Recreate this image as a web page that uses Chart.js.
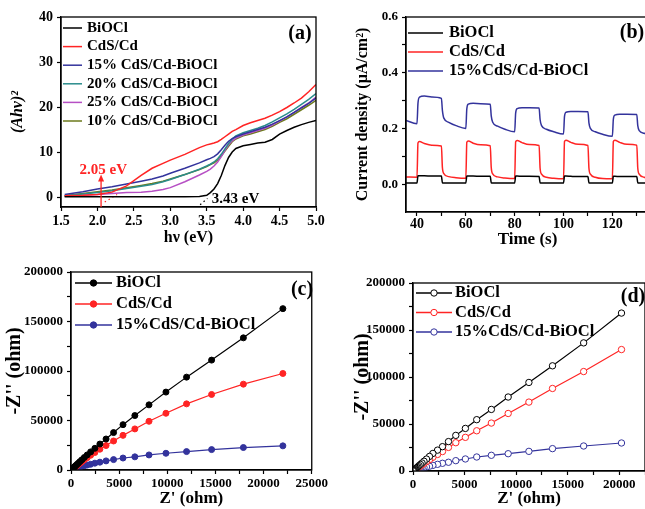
<!DOCTYPE html>
<html>
<head>
<meta charset="utf-8">
<script src="https://cdn.jsdelivr.net/npm/chart.js@4"></script>
<style>
html, body { margin: 0; padding: 0; background: #fff; overflow: hidden; width: 645px; height: 509px; }
canvas { position: absolute; }
</style>
</head>
<body>
<canvas id="ca" width="330" height="250" style="left:0;top:0"></canvas>
<canvas id="cb" width="320" height="250" style="left:330px;top:0"></canvas>
<canvas id="cc" width="330" height="259" style="left:0;top:250px"></canvas>
<canvas id="cd" width="320" height="259" style="left:330px;top:250px"></canvas>
<script>
//(a) TAUC PLOT DATA--------------------------------------------------
const energy = [1.55, 1.8, 2.0, 2.2, 2.4, 2.6, 2.75, 2.9, 3.0, 3.2, 3.4, 3.5, 3.55, 3.6, 3.65, 3.7, 3.75, 3.8, 3.85, 3.9, 4.0, 4.1, 4.2, 4.3, 4.4, 4.5, 4.6, 4.7, 4.8, 4.9, 5.0];
const taucBiOCl = [0.1, 0.1, 0.1, 0.1, 0.1, 0.1, 0.1, 0.1, 0.1, 0.1, 0.15, 0.4, 1.0, 1.8, 3.0, 4.8, 7.0, 8.8, 10.0, 10.8, 11.4, 11.7, 12.0, 12.2, 12.8, 14.0, 14.8, 15.5, 16.1, 16.6, 17.0];
const taucCdS = [0.3, 0.4, 0.6, 1.1, 2.5, 4.8, 6.4, 7.5, 8.2, 9.5, 11.0, 11.6, 11.8, 12.0, 12.3, 12.8, 13.4, 14.0, 14.6, 15.0, 15.9, 16.5, 17.0, 17.5, 18.2, 19.0, 19.9, 20.9, 22.0, 23.4, 25.0];
const tauc15 = [0.6, 1.2, 1.8, 2.3, 2.9, 3.5, 4.0, 4.7, 5.3, 6.4, 7.6, 8.3, 8.6, 9.0, 9.6, 10.5, 11.5, 12.4, 13.0, 13.4, 14.0, 14.5, 15.0, 15.5, 16.2, 17.0, 17.8, 18.8, 19.8, 20.8, 22.0];
const tauc20 = [0.3, 0.7, 1.0, 1.4, 1.9, 2.4, 2.8, 3.4, 3.9, 5.0, 6.2, 6.9, 7.3, 7.8, 8.5, 9.5, 10.7, 11.9, 12.9, 13.6, 14.3, 14.8, 15.3, 15.9, 16.7, 17.6, 18.5, 19.5, 20.6, 21.7, 23.0];
const tauc25 = [0.2, 0.4, 0.6, 0.8, 1.0, 1.1, 1.3, 1.7, 2.1, 3.4, 4.9, 5.7, 6.2, 6.9, 7.8, 9.0, 10.4, 11.6, 12.5, 13.1, 13.8, 14.3, 14.8, 15.3, 16.0, 16.9, 17.8, 18.8, 19.9, 20.9, 22.2];
const tauc10 = [0.3, 0.8, 1.2, 1.6, 2.1, 2.6, 3.0, 3.5, 4.0, 5.0, 6.1, 6.8, 7.2, 7.6, 8.2, 9.1, 10.2, 11.3, 12.3, 12.9, 13.6, 14.0, 14.5, 15.0, 15.7, 16.6, 17.4, 18.4, 19.4, 20.4, 21.5];
const tangentRedX = [2.1, 2.27];
const tangentRedY = [-1.1, 0.6];
const tangentBlackX = [3.41, 3.51];
const tangentBlackY = [-1.7, -0.3];
const gapRed = 2.05;
const gapBlack = 3.43;
const aTicksX = [1.5, 2.0, 2.5, 3.0, 3.5, 4.0, 4.5, 5.0];
const aLabelsX = ['1.5', '2.0', '2.5', '3.0', '3.5', '4.0', '4.5', '5.0'];
const aTicksY = [0, 10, 20, 30, 40];
const aLabelsY = ['0', '10', '20', '30', '40'];

//(b) PHOTOCURRENT DATA-----------------------------------------------
const timeS = [35.5, 40, 40.4, 41, 43, 46, 50, 50.4, 51, 53, 56,
  60, 60.4, 61, 63, 66, 70, 70.4, 71, 73, 76,
  80, 80.4, 81, 83, 86, 90, 90.4, 91, 93, 96,
  100, 100.4, 101, 103, 106, 110, 110.4, 111, 113, 116,
  120, 120.4, 121, 123, 126, 130, 130.4, 131, 133, 135];
const curBiOCl = [0.004, 0.004, 0.030, 0.030, 0.030, 0.029, 0.029, 0.005, 0.004, 0.004, 0.004,
  0.004, 0.029, 0.029, 0.029, 0.028, 0.028, 0.005, 0.004, 0.004, 0.004,
  0.004, 0.029, 0.029, 0.028, 0.028, 0.027, 0.005, 0.004, 0.004, 0.004,
  0.004, 0.029, 0.029, 0.028, 0.027, 0.027, 0.005, 0.004, 0.004, 0.004,
  0.004, 0.028, 0.028, 0.027, 0.027, 0.027, 0.005, 0.004, 0.004, 0.004];
const curCdS = [0.026, 0.025, 0.148, 0.153, 0.146, 0.140, 0.137, 0.060, 0.038, 0.027, 0.023,
  0.021, 0.150, 0.155, 0.147, 0.141, 0.138, 0.060, 0.037, 0.026, 0.022,
  0.020, 0.152, 0.157, 0.149, 0.142, 0.139, 0.058, 0.036, 0.025, 0.021,
  0.019, 0.153, 0.158, 0.150, 0.143, 0.139, 0.058, 0.036, 0.025, 0.020,
  0.019, 0.153, 0.158, 0.150, 0.143, 0.140, 0.058, 0.036, 0.025, 0.021];
const cur15 = [0.229, 0.217, 0.290, 0.312, 0.316, 0.313, 0.308, 0.265, 0.237, 0.222, 0.210,
  0.200, 0.270, 0.287, 0.290, 0.289, 0.287, 0.245, 0.222, 0.208, 0.197,
  0.188, 0.255, 0.271, 0.274, 0.274, 0.273, 0.232, 0.210, 0.197, 0.188,
  0.180, 0.243, 0.258, 0.261, 0.261, 0.260, 0.220, 0.200, 0.188, 0.179,
  0.172, 0.233, 0.248, 0.251, 0.251, 0.250, 0.210, 0.192, 0.183, 0.177];
const bTicksX = [40, 50, 60, 70, 80, 90, 100, 110, 120, 130];
const bLabelsX = ['40', '', '60', '', '80', '', '100', '', '120', ''];
const bTicksY = [0, 0.1, 0.2, 0.3, 0.4, 0.5, 0.6];
const bLabelsY = ['0.0', '', '0.2', '', '0.4', '', '0.6'];

//(c) NYQUIST (FILLED) DATA-------------------------------------------
const zReC = [22000, 17900, 14600, 12000, 9860, 8100, 6630, 5400, 4420, 3640, 3000, 2480, 2040, 1680, 1380, 1130, 930, 760, 620, 500, 400, 320, 250, 190, 140, 100, 60, 30, 10];
const zImC_BiOCl = [163000, 133500, 111000, 93800, 78700, 65800, 55000, 45800, 37800, 31300, 26200, 21900, 18300, 15200, 12600, 10300, 8500, 6900, 5600, 4500, 3600, 2900, 2200, 1700, 1200, 850, 500, 250, 80];
const zImC_CdS = [97500, 86700, 76300, 66800, 57300, 49200, 41500, 35000, 29300, 24700, 21000, 17700, 14900, 12400, 10300, 8400, 6900, 5600, 4500, 3600, 2900, 2300, 1800, 1400, 1000, 700, 430, 220, 70];
const zImC_15 = [24400, 22700, 20600, 18600, 16900, 15200, 13300, 12100, 10500, 9200, 7900, 6900, 5800, 5000, 4300, 3700, 3100, 2600, 2100, 1700, 1400, 1100, 850, 650, 480, 340, 200, 100, 30];
const cTicksX = [0, 2500, 5000, 7500, 10000, 12500, 15000, 17500, 20000, 22500, 25000];
const cLabelsX = ['0', '', '5000', '', '10000', '', '15000', '', '20000', '', '25000'];

//(d) NYQUIST (OPEN) DATA---------------------------------------------
const zReD = [20220, 16550, 13530, 11240, 9230, 7600, 6180, 5080, 4150, 3440, 2860, 2380, 1930, 1600, 1310, 1070, 880, 720, 590, 480, 390, 310, 250, 190, 140, 100, 60, 30, 10];
const zImD_BiOCl = [168000, 136300, 111900, 94200, 78700, 65500, 54600, 45300, 37900, 31300, 25900, 22200, 18700, 15500, 12700, 10400, 8500, 7000, 5700, 4600, 3700, 2900, 2300, 1700, 1300, 900, 550, 270, 90];
const zImD_CdS = [129200, 105800, 87800, 73300, 61200, 51000, 42800, 35800, 30100, 25100, 20700, 17600, 14600, 12000, 9900, 8100, 6600, 5400, 4400, 3600, 2900, 2300, 1800, 1400, 1000, 700, 420, 210, 70];
const zImD_15 = [29800, 26600, 23800, 20900, 18400, 16700, 14900, 12800, 11000, 9300, 8200, 7100, 6000, 5100, 4300, 3600, 3000, 2500, 2000, 1600, 1300, 1050, 800, 600, 450, 320, 200, 100, 30];
const dTicksX = [0, 2500, 5000, 7500, 10000, 12500, 15000, 17500, 20000, 22500];
const dLabelsX = ['0', '', '5000', '', '10000', '', '15000', '', '20000', ''];

//shared y ticks for (c) and (d)
const eisTicksY = [0, 25000, 50000, 75000, 100000, 125000, 150000, 175000, 200000];
const eisLabelsY = ['0', '', '50000', '', '100000', '', '150000', '', '200000'];
//-------------------------------------------------------------------

const FONT = "'Liberation Serif', 'Times New Roman', serif";
Chart.defaults.font.family = FONT;
Chart.defaults.font.weight = 'bold';
Chart.defaults.color = '#000';
Chart.defaults.animation = false;

const BLACK = '#000000', RED = '#ff2424', NAVY = '#33339c', TEAL = '#2a8c8c', PURPLE = '#b64fc4', OLIVE = '#6d7a1c';

function pts(xs, ys) {
  return xs.map(function (x, i) { return { x: x, y: ys[i] }; });
}

//frame around the plot area
const frame = {
  id: 'frame',
  afterDatasetsDraw(chart) {
    const a = chart.chartArea, ctx = chart.ctx;
    ctx.save();
    ctx.strokeStyle = '#000';
    ctx.lineWidth = 1.3;
    ctx.strokeRect(a.left, a.top, a.right - a.left, a.bottom - a.top);
    ctx.restore();
  }
};

//legend inside the plot + panel letter
const legendBox = {
  id: 'legendBox',
  afterDraw(chart, args, o) {
    const ctx = chart.ctx;
    ctx.save();
    ctx.font = 'bold ' + o.size + 'px ' + FONT;
    ctx.textBaseline = 'middle';
    ctx.textAlign = 'left';
    o.items.forEach(function (idx, k) {
      const ds = chart.data.datasets[idx];
      const y = o.y + k * o.dy;
      ctx.strokeStyle = ds.borderColor;
      ctx.lineWidth = 1.5;
      ctx.beginPath();
      ctx.moveTo(o.x, y);
      ctx.lineTo(o.x + o.len, y);
      ctx.stroke();
      if (o.marker) {
        ctx.beginPath();
        ctx.arc(o.x + o.len / 2, y, 3.2, 0, Math.PI * 2);
        ctx.fillStyle = o.marker === 'open' ? '#fff' : ds.borderColor;
        ctx.fill();
        ctx.lineWidth = 1;
        ctx.stroke();
      }
      ctx.fillStyle = '#000';
      ctx.fillText(ds.label, o.x + o.len + o.gap, y);
    });
    ctx.font = 'bold ' + o.tagSize + 'px ' + FONT;
    ctx.textAlign = 'center';
    ctx.fillText(o.tag, o.tagX, o.tagY);
    ctx.restore();
  }
};

//band gap arrow + labels (a)
const gapMarks = {
  id: 'gapMarks',
  afterDatasetsDraw(chart) {
    const ctx = chart.ctx, x = chart.scales.x, y = chart.scales.y;
    const ax = x.getPixelForValue(gapRed);
    const tip = y.getPixelForValue(5.0);
    ctx.save();
    ctx.strokeStyle = RED;
    ctx.fillStyle = RED;
    ctx.lineWidth = 1.3;
    ctx.beginPath();
    ctx.moveTo(ax, chart.chartArea.bottom);
    ctx.lineTo(ax, tip + 5);
    ctx.stroke();
    ctx.beginPath();
    ctx.moveTo(ax, tip);
    ctx.lineTo(ax - 3, tip + 7);
    ctx.lineTo(ax + 3, tip + 7);
    ctx.closePath();
    ctx.fill();
    ctx.font = 'bold 15px ' + FONT;
    ctx.textBaseline = 'middle';
    ctx.textAlign = 'center';
    ctx.fillText(gapRed.toFixed(2) + ' eV', x.getPixelForValue(2.08), y.getPixelForValue(6.0));
    ctx.fillStyle = '#000';
    ctx.textAlign = 'left';
    ctx.fillText(gapBlack.toFixed(2) + ' eV', x.getPixelForValue(3.57), y.getPixelForValue(-0.4));
    ctx.restore();
  }
};

function scale(o) {
  return {
    type: 'linear',
    min: o.min, max: o.max,
    afterBuildTicks: function (s) { s.ticks = o.ticks.map(function (v) { return { value: v }; }); },
    ticks: {
      autoSkip: false, maxRotation: 0, padding: o.pad,
      font: { size: o.fs },
      callback: function (v, i) { return o.labels[i]; }
    },
    grid: { drawOnChartArea: false, tickLength: 4, color: '#000', tickWidth: 1.2 },
    border: { color: '#000', width: 1.3 },
    title: { display: true, text: o.title, font: { size: o.tfs, style: o.italic ? 'italic' : 'normal' }, padding: o.tpad },
    afterFit: o.fit
  };
}

function baseOptions(pad, xs, ys, leg) {
  return {
    responsive: false,
    animation: false,
    layout: { padding: pad },
    plugins: { legend: { display: false }, tooltip: { enabled: false }, legendBox: leg },
    scales: { x: xs, y: ys }
  };
}

function lineSet(label, color, xs, ys, extra) {
  return Object.assign({
    label: label, data: pts(xs, ys), borderColor: color, backgroundColor: color,
    borderWidth: 1.5, pointRadius: 0, fill: false
  }, extra || {});
}

//CHART (a)-----------------------------------------------------------
new Chart(document.getElementById('ca'), {
  type: 'line',
  data: {
    datasets: [
      lineSet('BiOCl', BLACK, energy, taucBiOCl),
      lineSet('CdS/Cd', RED, energy, taucCdS),
      lineSet('15% CdS/Cd-BiOCl', NAVY, energy, tauc15),
      lineSet('20% CdS/Cd-BiOCl', TEAL, energy, tauc20),
      lineSet('25% CdS/Cd-BiOCl', PURPLE, energy, tauc25),
      lineSet('10% CdS/Cd-BiOCl', OLIVE, energy, tauc10),
      lineSet('', RED, tangentRedX, tangentRedY, { borderDash: [1.5, 3], borderWidth: 1.2 }),
      lineSet('', BLACK, tangentBlackX, tangentBlackY, { borderDash: [1.5, 3], borderWidth: 1.2 })
    ]
  },
  options: baseOptions({ top: 17, right: 14, left: 0, bottom: 0 },
    scale({ min: 1.5, max: 5.0, ticks: aTicksX, labels: aLabelsX, fs: 14, pad: 2,
      title: 'hν (eV)', tfs: 16, italic: false, tpad: { top: 0, bottom: 3 }, fit: s => { s.height = 43; } }),
    scale({ min: -2.2, max: 40, ticks: aTicksY, labels: aLabelsY, fs: 14, pad: 4,
      title: '(Ahν)²', tfs: 16, italic: true, tpad: { top: 8, bottom: 0 }, fit: s => { s.width = 61; } }),
    { items: [0, 1, 2, 3, 4, 5], x: 63, y: 28, dy: 18.6, len: 19, gap: 5, size: 15,
      tag: '(a)', tagX: 300, tagY: 34, tagSize: 20 }),
  plugins: [frame, legendBox, gapMarks]
});

//CHART (b)-----------------------------------------------------------
new Chart(document.getElementById('cb'), {
  type: 'line',
  data: {
    datasets: [
      lineSet('BiOCl', BLACK, timeS, curBiOCl, { cubicInterpolationMode: 'monotone' }),
      lineSet('CdS/Cd', RED, timeS, curCdS, { cubicInterpolationMode: 'monotone' }),
      lineSet('15%CdS/Cd-BiOCl', NAVY, timeS, cur15, { cubicInterpolationMode: 'monotone' })
    ]
  },
  options: baseOptions({ top: 17, right: 1, left: 0, bottom: 0 },
    scale({ min: 35.5, max: 135, ticks: bTicksX, labels: bLabelsX, fs: 14, pad: 0,
      title: 'Time (s)', tfs: 17, italic: false, tpad: { top: 0, bottom: 0 }, fit: s => { s.height = 38; } }),
    scale({ min: -0.1, max: 0.6, ticks: bTicksY, labels: bLabelsY, fs: 13, pad: 4,
      title: 'Current density (μA/cm²)', tfs: 16, italic: false, tpad: { top: 23, bottom: 0 }, fit: s => { s.width = 76; } }),
    { items: [0, 1, 2], x: 78, y: 33, dy: 19, len: 35, gap: 6, size: 16.5,
      tag: '(b)', tagX: 302, tagY: 33, tagSize: 20 }),
  plugins: [frame, legendBox]
});

//CHART (c)-----------------------------------------------------------
function eisSet(label, color, xs, ys, open) {
  return {
    label: label, data: pts(xs, ys), borderColor: color,
    backgroundColor: open ? '#fff' : color,
    pointBackgroundColor: open ? '#fff' : color,
    pointBorderColor: color, pointBorderWidth: 1, pointRadius: open ? 3.2 : 3,
    borderWidth: 1.2, fill: false
  };
}

new Chart(document.getElementById('cc'), {
  type: 'line',
  data: {
    datasets: [
      eisSet('BiOCl', BLACK, zReC, zImC_BiOCl, false),
      eisSet('CdS/Cd', RED, zReC, zImC_CdS, false),
      eisSet('15%CdS/Cd-BiOCl', NAVY, zReC, zImC_15, false)
    ]
  },
  options: baseOptions({ top: 22, right: 13, left: 0, bottom: 0 },
    scale({ min: 0, max: 25000, ticks: cTicksX, labels: cLabelsX, fs: 13, pad: 2,
      title: "Z' (ohm)", tfs: 17, italic: false, tpad: { top: 0, bottom: 0 }, fit: s => { s.height = 39; } }),
    scale({ min: 0, max: 200000, ticks: eisTicksY, labels: eisLabelsY, fs: 13, pad: 4,
      title: "-Z'' (ohm)", tfs: 20, italic: false, tpad: { top: 3, bottom: 0 }, fit: s => { s.width = 71; } }),
    { items: [0, 1, 2], x: 75, y: 33, dy: 21, len: 37, gap: 4, size: 16.5, marker: 'filled',
      tag: '(c)', tagX: 302, tagY: 40, tagSize: 20 }),
  plugins: [frame, legendBox]
});

//CHART (d)-----------------------------------------------------------
new Chart(document.getElementById('cd'), {
  type: 'line',
  data: {
    datasets: [
      eisSet('BiOCl', BLACK, zReD, zImD_BiOCl, true),
      eisSet('CdS/Cd', RED, zReD, zImD_CdS, true),
      eisSet('15%CdS/Cd-BiOCl', NAVY, zReD, zImD_15, true)
    ]
  },
  options: baseOptions({ top: 33, right: 1, left: 0, bottom: 0 },
    scale({ min: 0, max: 22500, ticks: dTicksX, labels: dLabelsX, fs: 13, pad: 2,
      title: "Z' (ohm)", tfs: 17, italic: false, tpad: { top: 0, bottom: 0 }, fit: s => { s.height = 38; } }),
    scale({ min: 0, max: 200000, ticks: eisTicksY, labels: eisLabelsY, fs: 13, pad: 4,
      title: "-Z'' (ohm)", tfs: 20, italic: false, tpad: { top: 21, bottom: 0 }, fit: s => { s.width = 83; } }),
    { items: [0, 1, 2], x: 86, y: 43, dy: 19.5, len: 36, gap: 3, size: 16.5, marker: 'open',
      tag: '(d)', tagX: 303, tagY: 47, tagSize: 20 }),
  plugins: [frame, legendBox]
});
</script>
</body>
</html>
